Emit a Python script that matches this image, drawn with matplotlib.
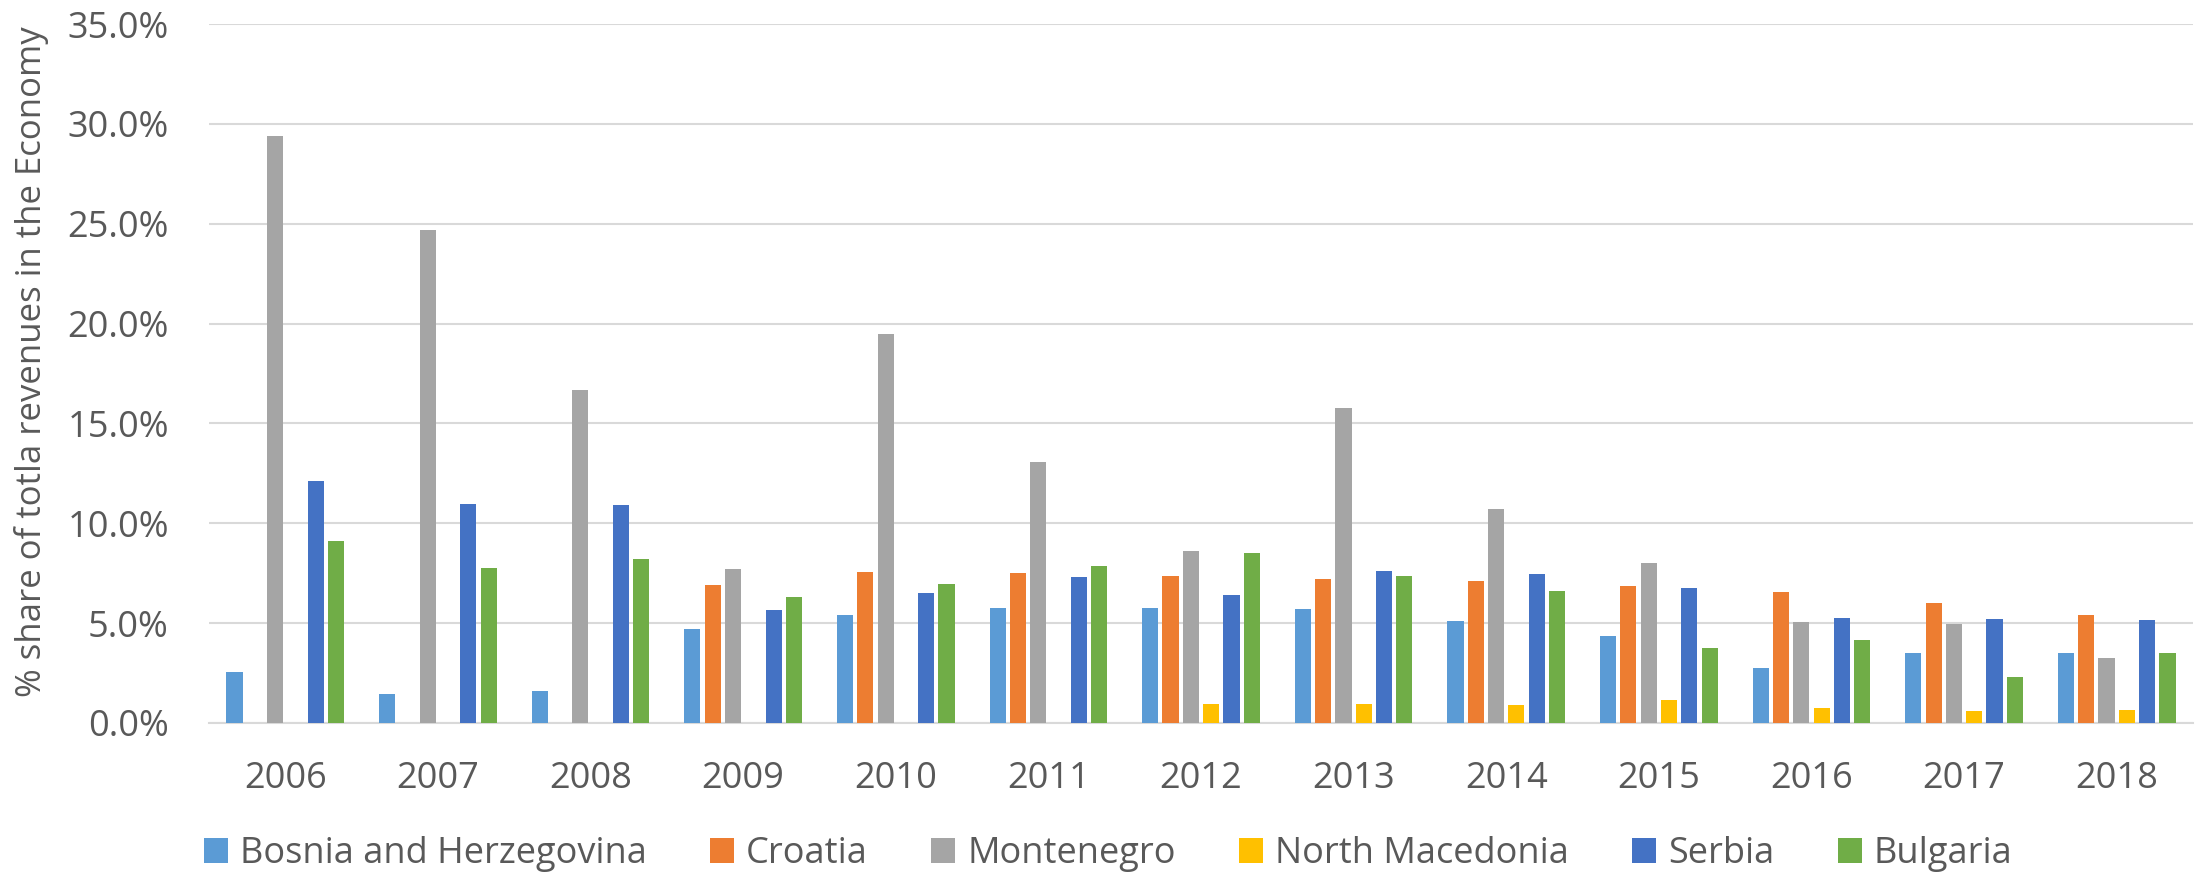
import numpy as np
import matplotlib
matplotlib.use("Agg")
import matplotlib.pyplot as plt
from matplotlib.ticker import PercentFormatter

nan = np.nan
years = ["2006", "2007", "2008", "2009", "2010", "2011", "2012",
         "2013", "2014", "2015", "2016", "2017", "2018"]
series_names = ["Bosnia and Herzegovina", "Croatia", "Montenegro",
                "North Macedonia", "Serbia", "Bulgaria"]

bosnia = [2.55, 1.44, 1.60, 4.72, 5.43, 5.74, 5.77, 5.69, 5.09, 4.36, 2.73, 3.53, 3.50]
croatia = [nan, nan, nan, 6.89, 7.57, 7.52, 7.37, 7.23, 7.10, 6.84, 6.55, 6.01, 5.40]
montenegro = [29.4, 24.7, 16.67, 7.69, 19.46, 13.09, 8.61, 15.79, 10.73, 8.03, 5.06, 4.94, 3.26]
north_macedonia = [nan, nan, nan, nan, nan, nan, 0.97, 0.97, 0.92, 1.17, 0.75, 0.61, 0.63]
serbia = [12.1, 10.97, 10.9, 5.64, 6.52, 7.30, 6.40, 7.62, 7.45, 6.76, 5.28, 5.21, 5.16]
bulgaria = [9.12, 7.76, 8.20, 6.33, 6.96, 7.86, 8.49, 7.37, 6.59, 3.77, 4.14, 2.29, 3.50]

colors = ["#5B9BD5", "#ED7D31", "#A5A5A5", "#FFC000", "#4472C4", "#70AD47"]
all_series = [bosnia, croatia, montenegro, north_macedonia, serbia, bulgaria]

text_color = "#595959"
font = ["Open Sans", "DejaVu Sans"]
W, H = 2197, 875
fig = plt.figure(figsize=(W / 100, H / 100), dpi=100)
ax = fig.add_axes([209 / W, (H - 723) / H, (2193 - 209) / W, (723 - 24) / H])

x = np.arange(len(years))
slot = 0.133
bw = 0.106
for i, (name, vals, c) in enumerate(zip(series_names, all_series, colors)):
    offs = (i - 2.5) * slot
    ax.bar(x + offs, np.array(vals, dtype=float) / 100.0, width=bw, color=c,
           label=name, zorder=3)

ax.set_xlim(-0.5, len(years) - 0.5)
ax.set_ylim(0, 0.35)
ax.set_yticks(np.arange(0, 0.351, 0.05))
ax.yaxis.set_major_formatter(PercentFormatter(xmax=1.0, decimals=1))
ax.grid(axis="y", color="#D9D9D9", linewidth=1.5, zorder=0)
ax.set_axisbelow(True)
for s in ["top", "right", "left"]:
    ax.spines[s].set_visible(False)
ax.spines["bottom"].set_color("#D9D9D9")
ax.spines["bottom"].set_linewidth(1.5)
ax.set_xticks(x)
ax.set_xticklabels(years)
ax.tick_params(axis="both", length=0)
ax.tick_params(axis="x", pad=27, labelsize=26, labelcolor=text_color)
ax.tick_params(axis="y", pad=29, labelsize=26, labelcolor=text_color)
for lab in ax.get_xticklabels() + ax.get_yticklabels():
    lab.set_family(font)

fig.text(32 / W, 1 - 362 / H, "% share of totla revenues in the Economy",
         rotation=90, ha="center", va="center", fontsize=25, color=text_color,
         family=font)

leg = fig.legend(loc="center", bbox_to_anchor=(1108 / W, 1 - 854 / H), ncol=6,
                 frameon=False, handlelength=0.67, handleheight=0.67,
                 handletextpad=0.33, columnspacing=1.75, borderpad=0.0,
                 prop={"family": font, "size": 26})
for t in leg.get_texts():
    t.set_color(text_color)

fig.savefig("out.png", dpi=100, facecolor="white")
